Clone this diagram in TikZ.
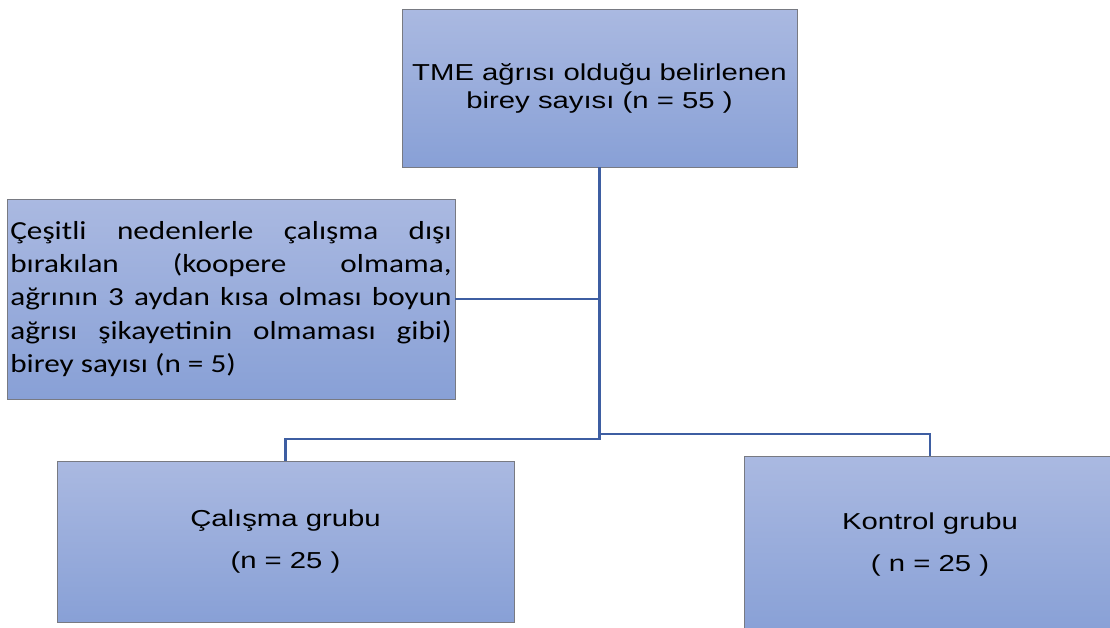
\documentclass[tikz,border=0pt]{standalone}
\usepackage{fontspec}
\setmainfont[FakeStretch=1.27]{Liberation Sans}
\newfontfamily\notefont[FakeStretch=1.2]{Carlito}
\usetikzlibrary{positioning}
\definecolor{boxtop}{RGB}{170,185,225}
\definecolor{boxbot}{RGB}{136,160,214}
\definecolor{boxline}{RGB}{120,122,130}
\definecolor{linkblue}{RGB}{62,94,162}

\begin{document}
\begin{tikzpicture}[x=0.75pt,y=-0.75pt,
    flowbox/.style={draw=boxline,line width=0.6pt,top color=boxtop,bottom color=boxbot,
      align=center,inner sep=2pt,font=\fontsize{17.3}{21}\selectfont},
    link/.style={draw=linkblue,line width=1.6pt}]
  \useasboundingbox (0,0) rectangle (1110,628);
  % boxes, centred at their pixel positions
  \node[flowbox,minimum width=296.25pt,minimum height=118.5pt] (total) at (599.5,88)
    {TME ağrısı olduğu belirlenen\\birey sayısı (n = 55 )};
  \node[flowbox,minimum width=336pt,minimum height=150pt,align=justify,text width=331pt,
    font=\notefont\fontsize{19.5}{25}\selectfont] (excl) at (231,299)
    {Çeşitli nedenlerle çalışma dışı\linebreak
     bırakılan (koopere olmama,\linebreak
     ağrının 3 aydan kısa olması boyun\linebreak
     ağrısı şikayetinin olmaması gibi)\linebreak
     birey sayısı (n = 5)};
  \node[flowbox,minimum width=342.75pt,minimum height=120.75pt,
    font=\fontsize{17.3}{31.5}\selectfont] (study) at (285.5,541.5)
    {Çalışma grubu\\(n = 25 )};
  \node[flowbox,minimum width=279pt,minimum height=133.5pt,
    font=\fontsize{17.3}{31.5}\selectfont] (control) at (930,545)
    {Kontrol grubu\\( n = 25 )};
  % connectors
  \draw[link] (total.south) -- ++(0,272) -| (study.north);
  \draw[link] (total.south) -- ++(0,267) -| (control.north);
  \draw[link,line width=1.2pt] (excl.east) -- (excl.east -| total.south);
\end{tikzpicture}
\end{document}
